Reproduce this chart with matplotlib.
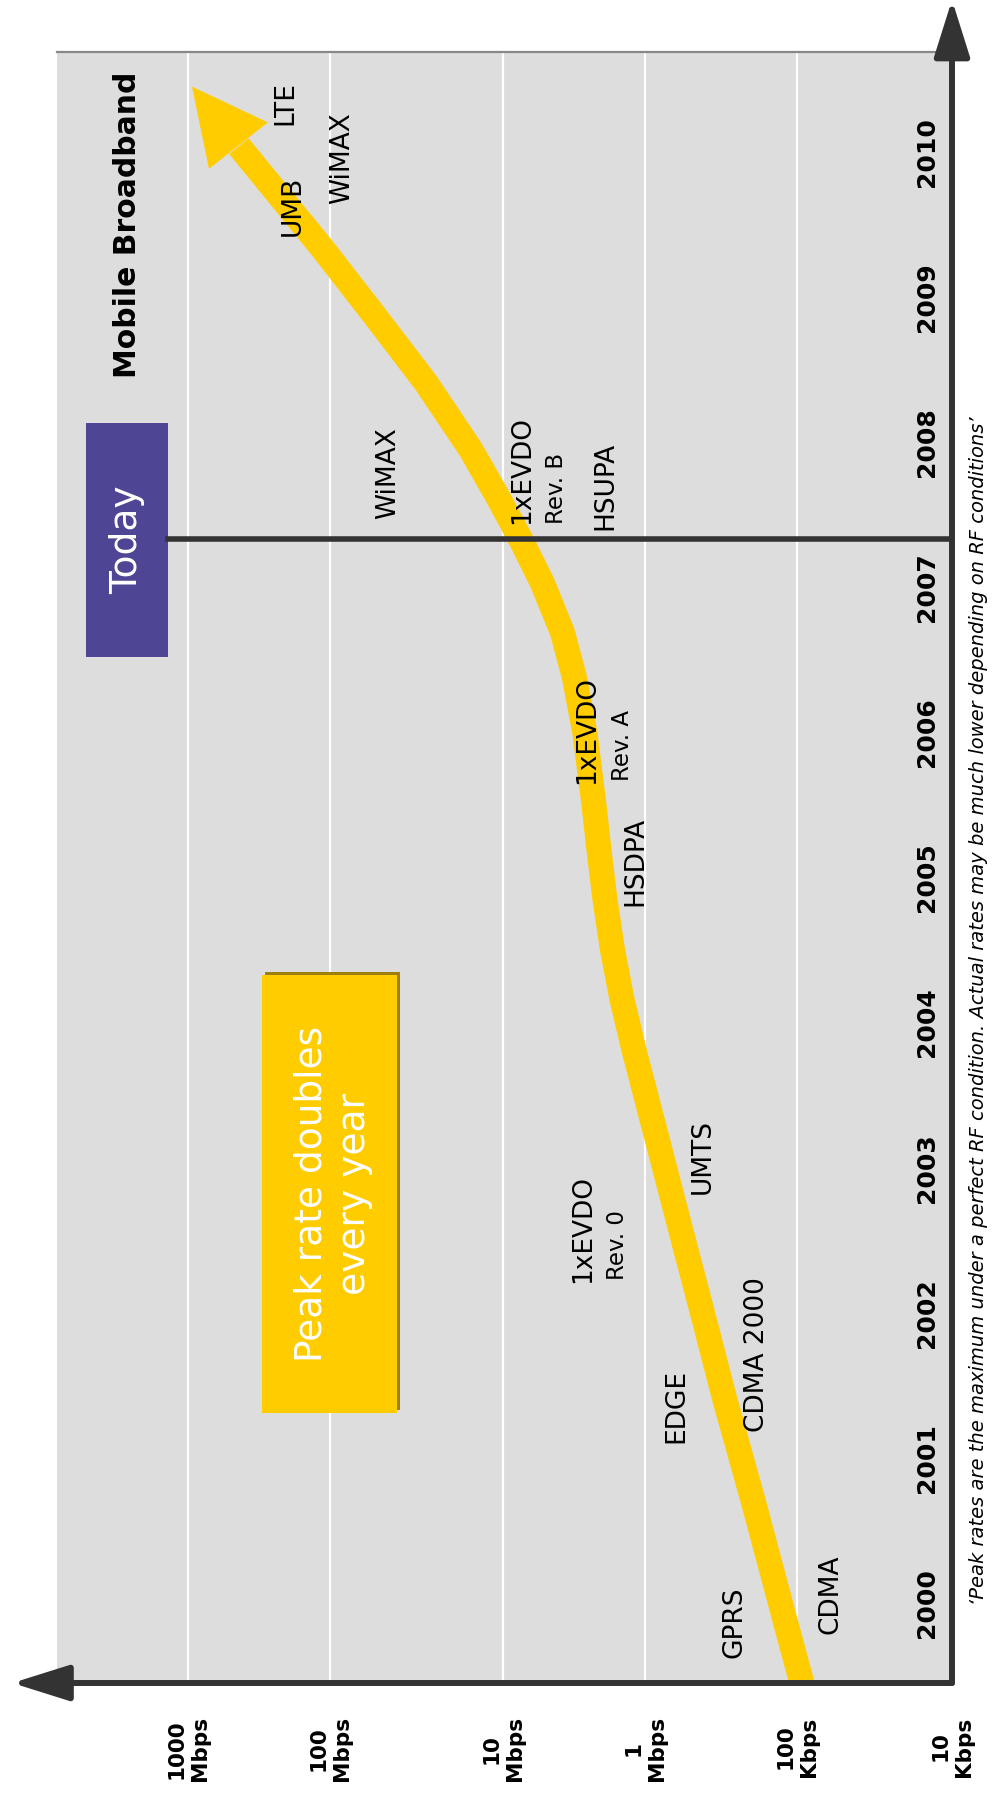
import numpy as np
import matplotlib
matplotlib.use("Agg")
import matplotlib.pyplot as plt
from matplotlib.patches import Rectangle
from matplotlib import transforms

# ---- data ----
years = [2000, 2001, 2002, 2003, 2004, 2005, 2006, 2007, 2008, 2009, 2010]
rate_ticks_kbps = [1e6, 1e5, 1e4, 1e3, 100, 10]
rate_tick_labels = ["1000\nMbps", "100\nMbps", "10\nMbps", "1\nMbps", "100\nKbps", "10\nKbps"]

# peak-rate trend (kbps) against year
curve_year = [1999.45, 1999.81, 2000.71, 2001.40, 2002.09, 2002.43, 2003.12, 2003.81,
              2004.16, 2004.50, 2004.85, 2005.19, 2005.53, 2006.00, 2006.39, 2006.69,
              2007.03, 2007.32, 2007.62, 2007.95, 2008.41, 2008.86, 2009.33, 2010.04]
curve_kbps = [93, 115, 195, 298, 441, 537, 796, 1195,
              1452, 1694, 1915, 2109, 2307, 2655, 3162, 3819,
              5284, 7413, 10690, 15380, 27920, 54200, 112000, 438500]
tip_year = 2010.45
tip_kbps = 938000

today_year = 2007.33

tech_names = ["LTE", "UMB", "WiMAX", "WiMAX", "1xEVDO", "Rev. B", "HSUPA",
              "1xEVDO", "Rev. A", "HSDPA", "UMTS", "1xEVDO", "Rev. 0",
              "EDGE", "CDMA 2000", "GPRS", "CDMA"]
tech_year = [2010.34, 2009.63, 2009.96, 2007.79, 2007.81, 2007.68, 2007.70,
             2006.02, 2005.91, 2005.11, 2003.08, 2002.58, 2002.47,
             2001.36, 2001.71, 1999.87, 2000.06]
tech_kbps = [2.08e5, 1.82e5, 8.5e4, 4.6e4, 7.3e3, 4.2e3, 1.9e3,
             2.56e3, 1.45e3, 1.16e3, 415, 2.74e3, 1.57e3,
             625, 183, 256, 61]

footnote = ("\u2018Peak rates are the maximum under a perfect RF condition. "
            "Actual rates may be much lower depending on RF conditions\u2019")

YELLOW = "#FFCC00"
DARK = "#333333"
PURPLE = "#4E4694"

# rate axis: decades are not evenly spaced on the original slide
LOG_KNOTS = [0, 1, 2, 3, 4, 5, 6, 7]
POS_KNOTS = [-155, 0, 155, 307, 449, 622, 764, 906]


def fwd(v):
    v = np.asarray(v, dtype=float)
    return np.interp(np.log10(np.maximum(v, 1e-12)), LOG_KNOTS, POS_KNOTS)


def inv(p):
    return 10 ** np.interp(np.asarray(p, dtype=float), POS_KNOTS, LOG_KNOTS)


fig = plt.figure(figsize=(9.93, 18), dpi=100)
ax = fig.add_axes([57 / 993, 1 - 1683 / 1800, 895 / 993, 1631 / 1800])
ax.set_facecolor("#DDDDDD")
ax.set_xscale("function", functions=(fwd, inv))
ax.set_xlim(10 ** 6.923, 10)
ax.set_ylim(1999.449, 2010.689)

ax.set_xticks(rate_ticks_kbps, rate_tick_labels, rotation=90, fontweight="bold", fontsize=15.5)
ax.tick_params(axis="x", length=0, pad=24)
ax.set_yticks([])
ax.grid(axis="x", color="white", lw=1.6)
ax.set_axisbelow(True)

for side in ["left", "right", "bottom"]:
    ax.spines[side].set_visible(False)
ax.spines["top"].set_color("#888888")
ax.spines["top"].set_linewidth(1.6)

# axis arrows
ax.annotate("", xy=(-0.05, 0), xytext=(1.0, 0), xycoords="axes fraction",
            arrowprops=dict(arrowstyle="-|>,head_length=3.5,head_width=1.1", color=DARK,
                            lw=4.3, shrinkA=0, shrinkB=0, mutation_scale=10),
            annotation_clip=False, zorder=6)
ax.annotate("", xy=(1.0, 1.032), xytext=(1.0, 0), xycoords="axes fraction",
            arrowprops=dict(arrowstyle="-|>,head_length=3.5,head_width=1.1", color=DARK,
                            lw=4.3, shrinkA=0, shrinkB=0, mutation_scale=10),
            annotation_clip=False, zorder=6)

# year labels inside the plot, next to the right axis
ytrans = transforms.blended_transform_factory(ax.transAxes, ax.transData)
for yr in years:
    ax.text(0.972, yr, str(yr), transform=ytrans, rotation=90, ha="center", va="center",
            fontsize=18, fontweight="bold")

# "Today" marker
ax.add_patch(Rectangle((1.38e6, today_year - 0.81), 5.22e6 - 1.38e6, 1.61,
                       facecolor=PURPLE, edgecolor="none", zorder=4))
ax.text(2.69e6, today_year, "Today", rotation=90, ha="center", va="center",
        color="white", fontsize=27, zorder=5)
ax.plot([1.38e6, 10], [today_year, today_year], color=DARK, lw=4, zorder=4)

# trend curve + arrow head
ax.plot(curve_kbps, curve_year, color=YELLOW, lw=18, solid_capstyle="butt",
        solid_joinstyle="round", zorder=3)
ax.annotate("", xy=(tip_kbps, tip_year), xytext=(curve_kbps[-1], curve_year[-1]),
            arrowprops=dict(arrowstyle="-|>,head_length=5.4,head_width=2.7", color=YELLOW,
                            lw=0, shrinkA=0, shrinkB=0, mutation_scale=10), zorder=3)

# peak rate box with shadow
shadow = transforms.offset_copy(ax.transData, fig=fig, x=3, y=3, units="dots")
ax.add_patch(Rectangle((4.1e4, 2001.31), 3.01e5 - 4.1e4, 3.02, transform=shadow,
                       facecolor="#9E7E0E", edgecolor="none", zorder=4))
ax.add_patch(Rectangle((4.1e4, 2001.31), 3.01e5 - 4.1e4, 3.02,
                       facecolor=YELLOW, edgecolor="none", zorder=4))
ax.text(9.6e4, 2002.82, "Peak rate doubles\nevery year", rotation=90, ha="center",
        va="center", multialignment="center", color="white", fontsize=27,
        linespacing=1.25, zorder=5)

ax.text(2.69e6, 2009.50, "Mobile Broadband", rotation=90, ha="center", va="center",
        fontsize=21.5, fontweight="bold", zorder=5)

for name, yr, kb in zip(tech_names, tech_year, tech_kbps):
    size = 16.5 if name.startswith("Rev.") else 19
    ax.text(kb, yr, name, rotation=90, ha="center", va="center", fontsize=size, zorder=5)

fig.text(978 / 993, 1 - 1011 / 1800, footnote, rotation=90, ha="center", va="center",
         fontstyle="italic", fontsize=14)

fig.savefig("out.png", dpi=100, facecolor="white")
